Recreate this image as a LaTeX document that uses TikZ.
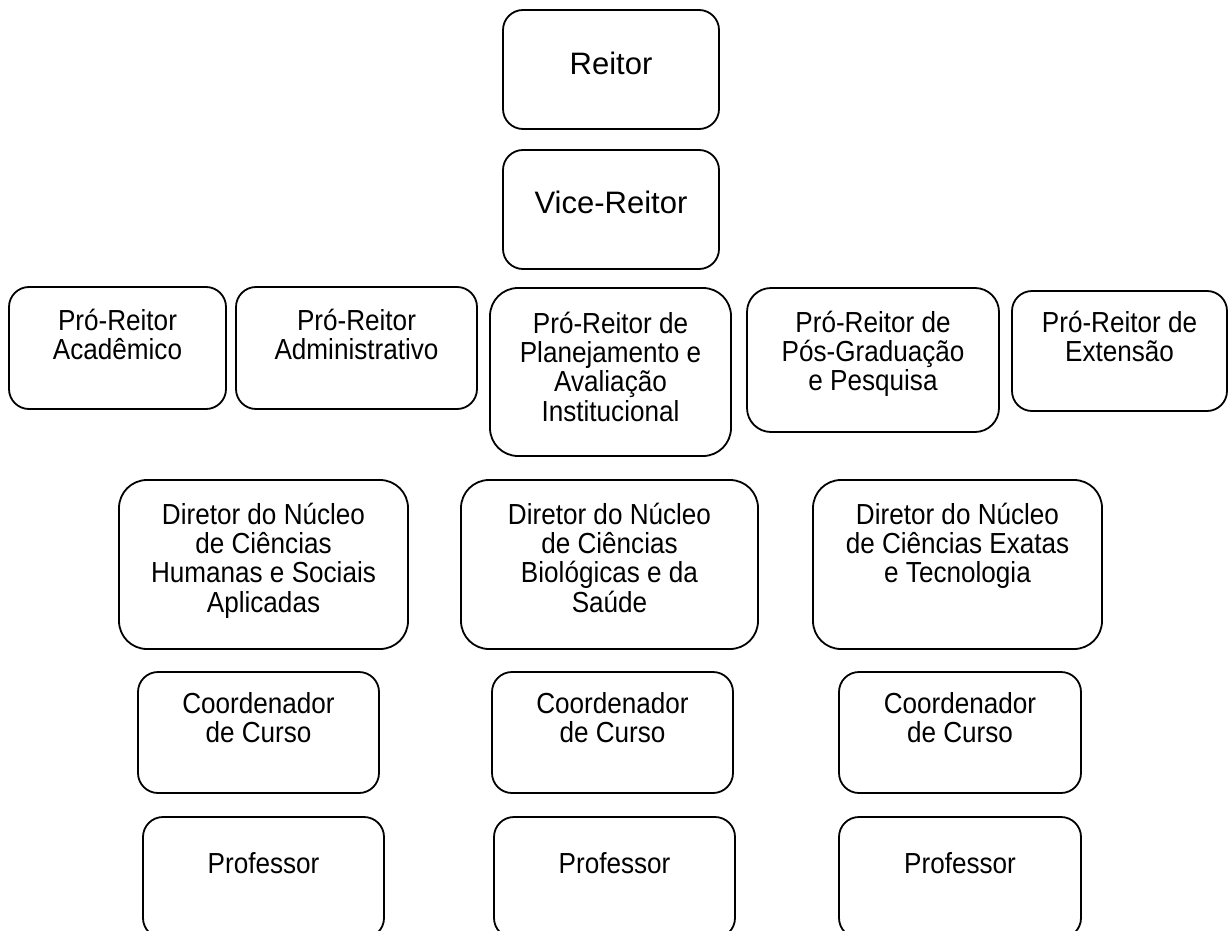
\documentclass[tikz,border=0pt]{standalone}
\usepackage{fontspec}
\setmainfont{Liberation Sans}
\newfontfamily\narrowfont[FakeStretch=0.9]{Liberation Sans}
\begin{document}
\begin{tikzpicture}[x=1pt,y=-1pt,
  box/.style={draw=black, line width=1.8pt, inner sep=0pt, fill=none},
  rsmall/.style={rounded corners=20pt},
  rbig/.style={rounded corners=28pt},
  lbl/.style={inner sep=0pt, align=center, font=\narrowfont\fontsize{29}{29.3}\selectfont},
  big/.style={inner sep=0pt, font=\fontsize{31}{35}\selectfont}]
\clip (0,0) rectangle (1228,931);
\fill[white] (0,0) rectangle (1228,931);
% boxes
\node[box,rsmall,minimum width=216pt,minimum height=119pt] (reitor) at (611,69.5) {};
\node[box,rsmall,minimum width=216pt,minimum height=119pt] (vice) at (611,209.5) {};
\node[box,rsmall,minimum width=217pt,minimum height=122pt] (acad) at (117.5,348) {};
\node[box,rsmall,minimum width=241pt,minimum height=122pt] (adm) at (356.5,348) {};
\node[box,rbig,minimum width=241pt,minimum height=168pt] (plan) at (610.5,372) {};
\node[box,rounded corners=24pt,minimum width=252pt,minimum height=144pt] (pos) at (873,360) {};
\node[box,rsmall,minimum width=215pt,minimum height=120pt] (ext) at (1119.5,351) {};
\node[box,rbig,minimum width=289pt,minimum height=169pt] (dir1) at (263.5,564.5) {};
\node[box,rbig,minimum width=297pt,minimum height=169pt] (dir2) at (609.5,564.5) {};
\node[box,rbig,minimum width=289pt,minimum height=169pt] (dir3) at (957.5,564.5) {};
\node[box,rsmall,minimum width=241pt,minimum height=121pt] (coord1) at (258.5,732.5) {};
\node[box,rsmall,minimum width=241pt,minimum height=121pt] (coord2) at (612.5,732.5) {};
\node[box,rsmall,minimum width=242pt,minimum height=121pt] (coord3) at (960,732.5) {};
\node[box,rsmall,minimum width=241pt,minimum height=121pt] (prof1) at (263.5,877.5) {};
\node[box,rsmall,minimum width=241pt,minimum height=121pt] (prof2) at (614.5,877.5) {};
\node[box,rsmall,minimum width=242pt,minimum height=121pt] (prof3) at (960,877.5) {};
% texts
\node[big,anchor=base] (reitor-t) at (611,75) {Reitor};
\node[big,anchor=base] (vice-t) at (611,213) {Vice-Reitor};
\node[lbl,anchor=north] (acad-t) at (117.5,301) {\rule{0pt}{29pt}Pró-Reitor\\Acadêmico};
\node[lbl,anchor=north] (adm-t) at (356.5,301) {\rule{0pt}{29pt}Pró-Reitor\\Administrativo};
\node[lbl,anchor=north] (plan-t) at (610.5,304) {\rule{0pt}{29pt}Pró-Reitor de\\Planejamento e\\Avaliação\\Institucional};
\node[lbl,anchor=north] (pos-t) at (873,303) {\rule{0pt}{29pt}Pró-Reitor de\\Pós-Graduação\\e Pesquisa};
\node[lbl,anchor=north] (ext-t) at (1119.5,303) {\rule{0pt}{29pt}Pró-Reitor de\\Extensão};
\node[lbl,anchor=north] (dir1-t) at (263.5,495) {\rule{0pt}{29pt}Diretor do Núcleo\\de Ciências\\Humanas e Sociais\\Aplicadas};
\node[lbl,anchor=north] (dir2-t) at (609.5,495) {\rule{0pt}{29pt}Diretor do Núcleo\\de Ciências\\Biológicas e da\\Saúde};
\node[lbl,anchor=north] (dir3-t) at (957.5,495) {\rule{0pt}{29pt}Diretor do Núcleo\\de Ciências Exatas\\e Tecnologia};
\node[lbl,anchor=north] (coord1-t) at (258.5,684) {\rule{0pt}{29pt}Coordenador\\de Curso};
\node[lbl,anchor=north] (coord2-t) at (612.5,684) {\rule{0pt}{29pt}Coordenador\\de Curso};
\node[lbl,anchor=north] (coord3-t) at (960,684) {\rule{0pt}{29pt}Coordenador\\de Curso};
\node[lbl,anchor=base] (prof1-t) at (263.5,873) {Professor};
\node[lbl,anchor=base] (prof2-t) at (614.5,873) {Professor};
\node[lbl,anchor=base] (prof3-t) at (960,873) {Professor};
\end{tikzpicture}
\end{document}
